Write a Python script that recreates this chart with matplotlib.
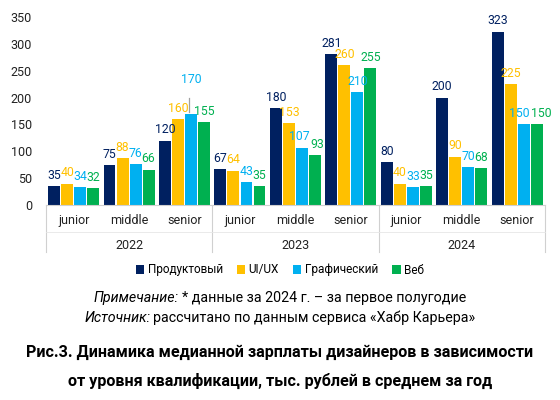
import matplotlib.pyplot as plt
import matplotlib.transforms as mtransforms
import numpy as np

plt.rcParams['font.family'] = ['Roboto', 'DejaVu Sans']

years = ['2022', '2023', '2024']
levels = ['junior', 'middle', 'senior']
series = ['Продуктовый', 'UI/UX', 'Графический', 'Веб']
colors = ['#002060', '#FFC000', '#00B0F0', '#00B050']

product = [35, 75, 120, 67, 180, 281, 80, 200, 323]
uiux = [40, 88, 160, 64, 153, 260, 40, 90, 225]
graphic = [34, 76, 170, 43, 107, 210, 33, 70, 150]
web = [32, 66, 155, 35, 93, 255, 35, 68, 150]
values = [product, uiux, graphic, web]

fig = plt.figure(figsize=(5.6, 4.0), dpi=100)
ax = fig.add_axes([0.082, 0.4875, 0.891, 0.47])

x = np.arange(len(product))
width = 0.215
step = 0.235
# small horizontal nudges (points) for crowded labels: (series, category) -> dx
nudge = {(2, 8): -3, (3, 8): 3, (2, 4): -2, (3, 4): 2}
for i, (name, vals, col) in enumerate(zip(series, values, colors)):
    pos = x + (i - 1.5) * step
    ax.bar(pos, vals, width=width, color=col, label=name)
    for k, (px, v) in enumerate(zip(pos, vals)):
        if i == 2 and k == 2:
            # raised label with a thin leader line, as in the source
            ax.annotate(str(v), (px, v), xytext=(0, 20), textcoords='offset points',
                        ha='center', va='bottom', fontsize=8.8, color=col)
            ax.plot([px - 0.03, px - 0.03], [v + 3, v + 30], color='#a0a0a0', lw=0.9)
            continue
        dx = nudge.get((i, k), 0)
        ax.annotate(str(v), (px, v), xytext=(dx, 3), textcoords='offset points',
                    ha='center', va='bottom', fontsize=8.8, color=col)

ax.set_ylim(0, 350)
ax.set_xlim(-0.5, len(product) - 0.5)
ax.set_yticks(range(0, 351, 50))
ax.tick_params(axis='y', length=0, labelsize=9, pad=10, colors='#222222')
ax.set_xticks([])
for s in ['top', 'right', 'left']:
    ax.spines[s].set_visible(False)
ax.spines['bottom'].set_color('#d0d0d0')

# multi-level category axis
trans = mtransforms.blended_transform_factory(ax.transData, ax.transAxes)
for i in x:
    ax.text(i, -0.085, levels[i % 3], transform=trans, ha='center', va='center',
            fontsize=9, color='#222222')
for j, yr in enumerate(years):
    ax.text(3 * j + 1, -0.213, yr, transform=trans, ha='center', va='center',
            fontsize=9, color='#222222')
for sep in [-0.5, 2.5, 5.5, 8.5]:
    ax.plot([sep, sep], [0, -0.25], transform=trans, color='#d0d0d0', lw=0.8, clip_on=False)
ax.plot([-0.5, 8.5], [-0.144, -0.144], transform=trans, color='#e6e6e6', lw=0.6, clip_on=False)

fig.legend(loc='center', bbox_to_anchor=(0.5, 0.325), ncol=4, frameon=False, fontsize=8.5,
           handlelength=0.7, handleheight=0.7, handletextpad=0.3, columnspacing=1.2)


def centered_note(y, prefix, rest, size=10.3):
    # italic prefix + regular text, centred together
    t1 = fig.text(0, y, prefix, ha='left', va='center', fontsize=size, style='italic')
    t2 = fig.text(0, y, rest, ha='left', va='center', fontsize=size)
    fig.canvas.draw()
    w1 = t1.get_window_extent().width
    w2 = t2.get_window_extent().width
    gap = 3
    start = (fig.bbox.width - (w1 + gap + w2)) / 2
    t1.set_x(start / fig.bbox.width)
    t2.set_x((start + w1 + gap) / fig.bbox.width)


centered_note(0.255, 'Примечание:', '* данные за 2024 г. – за первое полугодие')
centered_note(0.205, 'Источник:', 'рассчитано по данным сервиса «Хабр Карьера»')

fig.text(0.5, 0.12, 'Рис.3. Динамика медианной зарплаты дизайнеров в зависимости',
         ha='center', va='center', fontsize=11.6, fontweight='bold')
fig.text(0.5, 0.048, 'от уровня квалификации, тыс. рублей в среднем за год',
         ha='center', va='center', fontsize=11.6, fontweight='bold')

fig.savefig('out.png', dpi=100)
